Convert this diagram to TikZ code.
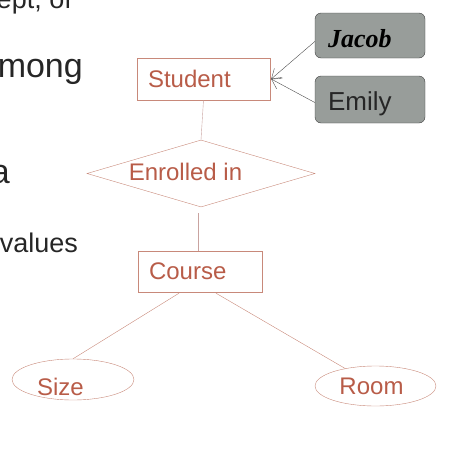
\documentclass[tikz,border=0pt]{standalone}
\usepackage{fontspec}
\setmainfont{Liberation Sans}
\newfontfamily\timesfont{Liberation Serif}
\usetikzlibrary{calc,positioning,shapes.geometric,arrows.meta}
\definecolor{ertext}{HTML}{B85C48}
\definecolor{erline}{HTML}{C8897A}
\definecolor{erlink}{HTML}{C9A3A0}
\definecolor{boxfill}{HTML}{989D9A}
\definecolor{slidetext}{HTML}{262626}

\begin{document}
\begin{tikzpicture}[x=1pt,y=-1pt]
    \useasboundingbox (0,0) rectangle (460,472);

    % Slide text behind the diagram
    \node[anchor=base east,text=slidetext,inner sep=0,font=\fontsize{27}{30}\selectfont] (slide1) at (72,8) {ept, of};
    \node[anchor=base east,text=slidetext,inner sep=0,font=\fontsize{34}{38}\selectfont] (slide2) at (83,77) {mong};
    \node[anchor=base east,text=slidetext,inner sep=0,font=\fontsize{34}{38}\selectfont] (slide3) at (10,183) {a};
    \node[anchor=base east,text=slidetext,inner sep=0,font=\fontsize{27}{30}\selectfont] (slide4) at (78,252) {values};

    % Student
    \node[draw=erline,text=ertext,align=left,inner xsep=11pt,inner ysep=0,text width=111pt,minimum height=42pt,font=\fontsize{24}{28}\selectfont] (Student) at (203.5,79) {Student};

    % Enrolled in
    \node[draw=erline,diamond,aspect=3.4,inner sep=0,minimum width=228pt,minimum height=67pt,label={[text=ertext,xshift=-15.5pt,yshift=1.5pt,font=\fontsize{24}{28}\selectfont]center:Enrolled in}] (enrolled) at (201,173.5) {};

    % Course
    \node[draw=erline,text=ertext,align=left,inner xsep=11pt,inner ysep=0,text width=102pt,minimum height=41pt,font=\fontsize{24}{28}\selectfont] (Course) at (200,271.5) {Course};

    % Attributes of Course
    \node[draw=erline,ellipse,inner sep=0,minimum width=122pt,minimum height=41pt,label={[text=ertext,xshift=-12.5pt,yshift=-7pt,font=\fontsize{24}{28}\selectfont]center:Size}] (size) at (73,379.5) {};
    \node[draw=erline,ellipse,inner sep=0,minimum width=121pt,minimum height=40pt,label={[text=ertext,xshift=-4pt,yshift=0pt,font=\fontsize{24}{28}\selectfont]center:Room}] (room) at (375.5,386) {};

    % Instances of Student
    \node[draw=black!75,fill=boxfill,rounded corners=6pt,align=left,inner xsep=13pt,inner ysep=0,text width=84pt,text height=25pt,text depth=2pt,minimum height=45pt,font=\fontsize{26}{30}\selectfont] (jacob) at (370,35.5) {{\timesfont\bfseries\itshape Jacob}};
    \node[draw=black!75,fill=boxfill,rounded corners=6pt,align=left,inner xsep=13pt,inner ysep=0,text width=84pt,text height=24pt,text depth=3pt,minimum height=47pt,text=black!85,font=\fontsize{26}{30}\selectfont] (emily) at (370,99.5) {Emily};

    % Links
    \draw[erlink] (Student.south) -- (enrolled.north);
    \draw[erlink] ($(enrolled.south)+(-3,6)$) -- ($(Course.north)+(-2,0)$);
    \draw[erline] ($(Course.south)+(-21,1)$) -- (size.north);
    \draw[erline] ($(Course.south)+(16,1)$) -- (room.150);
    \draw[-{Straight Barb[length=9pt,width=12pt]},black!70] ($(jacob.west)+(0,6)$) -- ($(Student.east)+(1,0)$);
    \draw[-{Straight Barb[length=9pt,width=12pt]},black!70] ($(emily.west)+(0,3)$) -- ($(Student.east)+(1,0)$);
\end{tikzpicture}
\end{document}
